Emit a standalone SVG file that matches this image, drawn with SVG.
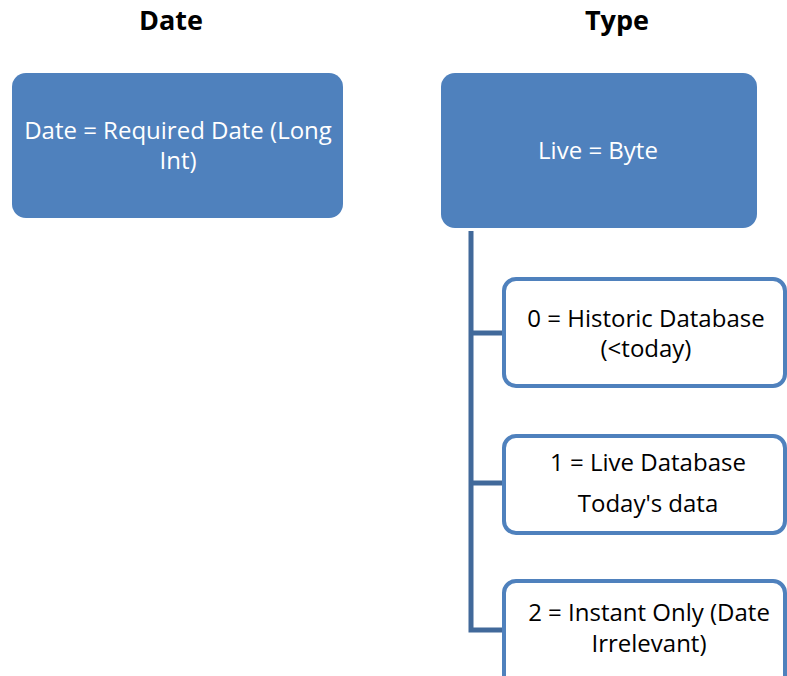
<svg xmlns="http://www.w3.org/2000/svg" width="787" height="676" viewBox="0 0 787 676">
<style>
.hdr{font-family:"Open Sans","Liberation Sans",sans-serif;font-weight:bold;font-size:27px;fill:#000;text-anchor:middle}
.wt{font-family:"Open Sans","Liberation Sans",sans-serif;font-size:24px;fill:#fff;text-anchor:middle}
.bt{font-family:"Open Sans","Liberation Sans",sans-serif;font-size:24px;fill:#000;text-anchor:middle}
.filled{fill:#4f81bd}
.outl{fill:#fff;stroke:#4f81bd;stroke-width:4}
.conn{fill:none;stroke:#41699a;stroke-width:5}
</style>
<rect width="787" height="676" fill="#fff"/>
<g id="hdr-date"><text class="hdr" x="171" y="30">Date</text></g>
<g id="hdr-type"><text class="hdr" x="617" y="30">Type</text></g>
<g id="connectors">
<path class="conn" d="M471 231 V630 H504"/>
<path class="conn" d="M471 333 H504"/>
<path class="conn" d="M471 483 H504"/>
</g>
<g id="date-node">
<rect class="filled" x="12" y="73" width="331" height="145" rx="14"/>
<text class="wt" x="178" y="139">Date = Required Date (Long</text>
<text class="wt" x="178" y="169">Int)</text>
</g>
<g id="live-node">
<rect class="filled" x="441" y="73" width="316" height="155" rx="14"/>
<text class="wt" x="598" y="159">Live = Byte</text>
</g>
<g id="opt0">
<rect class="outl" x="504" y="279" width="281" height="107" rx="12"/>
<text class="bt" x="646" y="327">0 = Historic Database</text>
<text class="bt" x="646" y="357">(&lt;today)</text>
</g>
<g id="opt1">
<rect class="outl" x="504" y="436" width="281" height="97" rx="12"/>
<text class="bt" x="648" y="471">1 = Live Database</text>
<text class="bt" x="648" y="512">Today's data</text>
</g>
<g id="opt2">
<rect class="outl" x="504" y="581" width="281" height="107" rx="12"/>
<text class="bt" x="649" y="621">2 = Instant Only (Date</text>
<text class="bt" x="649" y="652">Irrelevant)</text>
</g>
</svg>
